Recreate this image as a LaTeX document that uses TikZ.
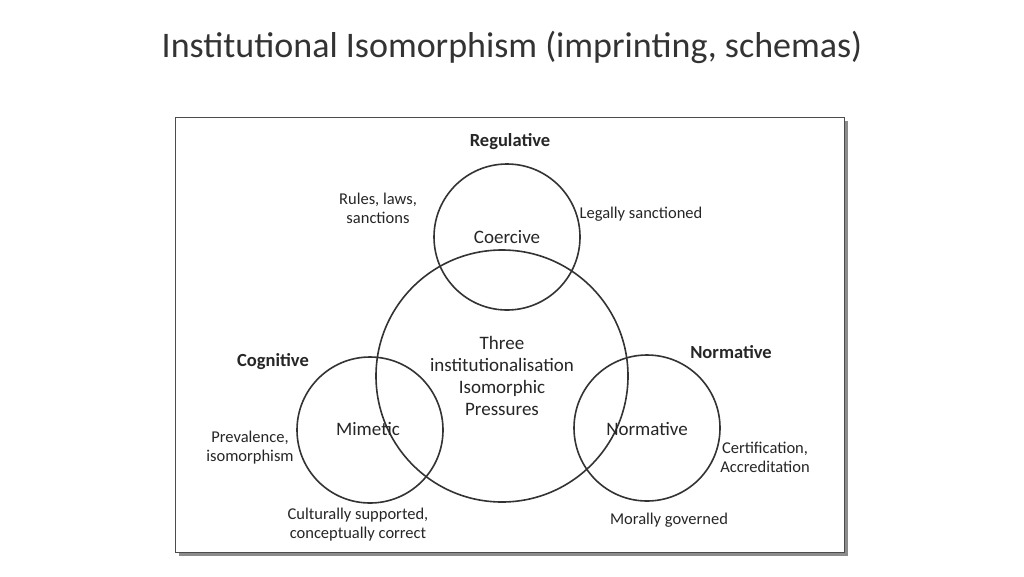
\documentclass[tikz,border=0pt]{standalone}
\usepackage{fontspec}
\setmainfont{Carlito}
\begin{document}
\begin{tikzpicture}[
    x = 1pt, y = -1pt,
    pressure/.style = {circle, draw, line width = 1.6pt, draw = black!80},
    lbl/.style = {font = \fontsize{16.5}{19}\selectfont, align = center, text = black!85},
    inner/.style = {font = \fontsize{19}{22}\selectfont, align = center, text = black!85},
    head/.style = {font = \fontsize{18.5}{21}\selectfont\bfseries, text = black!85}
    ]
    \useasboundingbox (0, 0) rectangle (1024, 576);
    \node at (512, 47) [name = title, font = \fontsize{36}{40}\selectfont, text = black!80]
      {Institutional Isomorphism (imprinting, schemas)};

    % frame with shadow
    \fill [black!45] (179, 121) rectangle (848, 556);
    \draw [fill = white, line width = 1pt, draw = black!70] (175, 117) rectangle (844, 552);

    \node at (502, 376) [pressure, minimum size = 252pt, name = T] {};
    \node at (507, 237) [pressure, minimum size = 146pt, name = C] {};
    \node at (370, 430) [pressure, minimum size = 146pt, name = Mi] {};
    \node at (647, 428) [pressure, minimum size = 146pt, name = N] {};

    \node at (502, 376) [inner, name = Tl]
      {Three\\institutionalisation\\Isomorphic\\Pressures};
    \node at (507, 237) [inner, name = Cl] {Coercive};
    \node at (368, 429) [inner, name = Mil] {Mimetic};
    \node at (647, 429) [inner, name = Nl] {Normative};

    \node at (510, 142) [head, name = reg] {Regulative};
    \node at (273, 362) [head, name = cog] {Cognitive};
    \node at (731, 352) [head, name = nor] {Normative};

    \node at (378, 208) [lbl, name = rules] {Rules, laws,\\sanctions};
    \node at (641, 214) [lbl, name = legal] {Legally sanctioned};
    \node at (250, 448) [lbl, name = prev] {Prevalence,\\isomorphism};
    \node at (358, 525) [lbl, name = cult] {Culturally supported,\\conceptually correct};
    \node at (765, 457) [lbl, name = cert] {Certification,\\Accreditation};
    \node at (669, 520) [lbl, name = moral] {Morally governed};
\end{tikzpicture}
\end{document}
